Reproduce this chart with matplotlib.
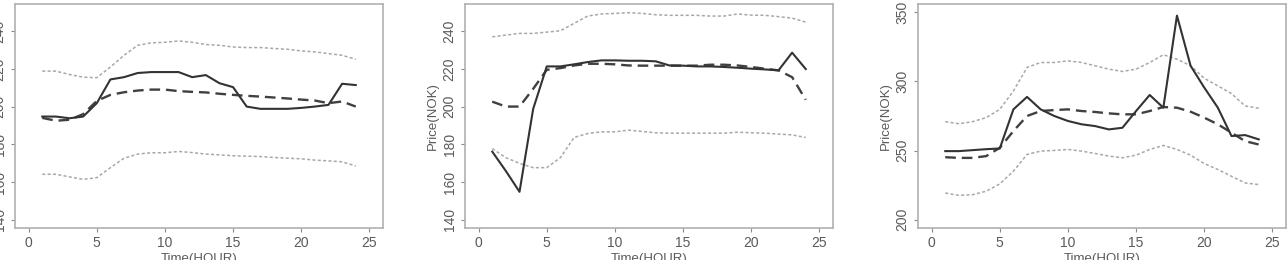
import numpy as np
import matplotlib
matplotlib.use('Agg')
from matplotlib import pyplot as plt

plt.rcParams['font.family'] = ['Liberation Sans', 'DejaVu Sans']

hours = np.arange(1, 25)

# panel 1
p1_actual = [194.7, 194.7, 193.8, 194.7, 201.8, 214.4, 215.6, 217.8, 218.3, 218.3, 218.3, 215.6,
             216.7, 212.4, 210.3, 200.0, 198.8, 198.8, 198.8, 199.3, 200.0, 200.9, 212.1, 211.4]
p1_fcst = [194.0, 192.5, 193.0, 196.0, 203.0, 206.2, 207.6, 208.5, 209.0, 209.0, 208.2, 207.8,
           207.5, 206.8, 206.2, 205.7, 205.3, 204.8, 204.3, 203.7, 203.2, 201.8, 202.7, 200.0]
p1_upper = [218.8, 218.8, 217.0, 215.6, 215.3, 221.0, 227.2, 232.5, 233.8, 234.1, 234.8, 234.1,
            232.9, 232.5, 231.6, 231.3, 231.3, 230.8, 230.4, 229.5, 229.0, 228.1, 227.2, 225.1]
p1_lower = [164.1, 164.1, 162.7, 161.4, 162.3, 167.6, 172.6, 174.8, 175.5, 175.5, 176.2, 175.6,
            174.8, 174.4, 173.9, 173.7, 173.5, 173.0, 172.6, 172.3, 171.6, 171.2, 170.7, 168.5]

# panel 2
p2_actual = [176.1, 165.8, 154.8, 198.7, 221.3, 221.3, 222.4, 223.6, 224.5, 224.5, 224.3, 224.3,
             224.0, 221.8, 221.7, 221.3, 221.3, 221.0, 220.6, 220.1, 219.7, 219.2, 228.6, 219.9]
p2_fcst = [202.6, 200.0, 200.0, 209.4, 219.5, 220.4, 221.8, 222.7, 222.7, 222.4, 221.8, 221.7,
           221.7, 221.7, 221.7, 221.7, 222.2, 222.2, 221.8, 221.0, 220.1, 219.2, 215.6, 203.6]
p2_upper = [237.0, 237.9, 238.8, 238.8, 239.5, 240.2, 244.1, 248.0, 249.1, 249.4, 249.8, 249.4,
            248.7, 248.4, 248.4, 248.4, 248.0, 248.0, 249.1, 248.5, 248.4, 247.7, 246.9, 244.8]
p2_lower = [177.7, 172.9, 169.9, 167.6, 167.6, 172.9, 183.6, 185.7, 186.6, 186.6, 187.5, 186.8,
            186.1, 185.9, 185.9, 185.9, 185.9, 185.9, 186.4, 186.1, 185.9, 185.4, 185.0, 183.6]

# panel 3
p3_actual = [249.6, 249.6, 250.3, 251.0, 251.5, 279.8, 288.8, 279.8, 275.0, 271.4, 269.0, 267.7,
             265.3, 266.5, 278.6, 290.2, 281.0, 347.6, 311.3, 295.6, 281.0, 260.5, 261.2, 258.1]
p3_fcst = [245.2, 244.7, 244.7, 246.0, 252.0, 264.1, 275.0, 278.6, 279.3, 279.8, 278.6, 277.9,
           276.9, 276.2, 276.2, 278.6, 281.5, 281.0, 278.1, 273.8, 269.0, 262.9, 256.8, 254.4]
p3_upper = [270.9, 269.4, 270.9, 273.8, 279.8, 293.1, 310.1, 313.7, 313.7, 314.9, 313.7, 311.3,
            308.9, 307.2, 308.9, 313.7, 319.3, 316.1, 311.3, 302.3, 296.8, 291.2, 282.3, 280.6]
p3_lower = [219.3, 217.6, 218.1, 220.6, 225.9, 235.1, 247.2, 249.6, 250.1, 250.8, 249.6, 247.9,
            246.0, 244.8, 246.7, 250.8, 253.7, 250.8, 246.7, 240.6, 236.3, 231.4, 226.6, 225.4]

panels = [
    (p1_actual, p1_fcst, p1_upper, p1_lower, (140, 250), [140, 160, 180, 200, 220, 240]),
    (p2_actual, p2_fcst, p2_upper, p2_lower, (140, 250), [140, 160, 180, 200, 220, 240]),
    (p3_actual, p3_fcst, p3_upper, p3_lower, (200, 350), [200, 250, 300, 350]),
]
lefts = [15 / 1287, 465 / 1287, 918 / 1287]
xticks = [0, 5, 10, 15, 20, 25]

fig = plt.figure(figsize=(12.87, 2.6), dpi=100)
gray = '#8a8a8a'
txt = '#5a5a5a'
for left, (act, fc, up, lo, ylim, yt) in zip(lefts, panels):
    ax = fig.add_axes([left, 32 / 260, 368 / 1287, 224 / 260])
    ax.plot(hours, up, color='#a8a8a8', lw=1.1, ls=(0, (2, 1.5)))
    ax.plot(hours, lo, color='#a8a8a8', lw=1.1, ls=(0, (2, 1.5)))
    ax.plot(hours, fc, color='#404040', lw=1.7, ls=(0, (4.5, 2.5)))
    ax.plot(hours, act, color='#333333', lw=1.5)
    r = ylim[1] - ylim[0]
    ax.set_ylim(ylim[0] - 0.04 * r, ylim[1] + 0.04 * r)
    ax.set_xlim(-1, 26)
    ax.set_xticks(xticks)
    ax.set_yticks(yt)
    ax.set_yticklabels([str(v) for v in yt], rotation=90, va='center')
    ax.tick_params(colors=gray, labelcolor=txt, labelsize=10, length=3, width=0.8, pad=3)
    for s in ax.spines.values():
        s.set_color('#b0b0b0')
        s.set_linewidth(1.2)
    ax.set_xlabel('Time(HOUR)', color=txt, fontsize=9.5, labelpad=2)
    ax.set_ylabel('Price(NOK)', color=txt, fontsize=9.5, labelpad=3)

fig.savefig('out.png', dpi=100)
